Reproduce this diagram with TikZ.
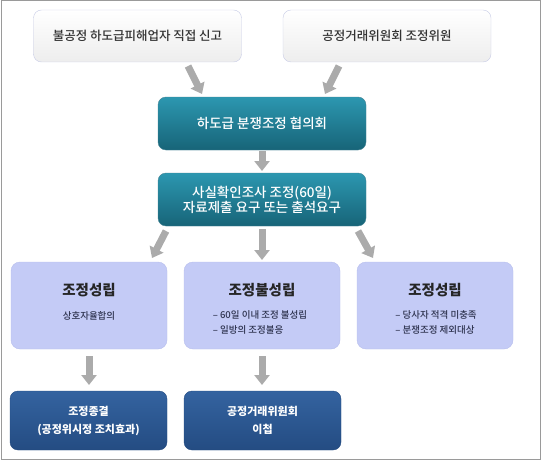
\documentclass[tikz,border=0pt]{standalone}
\usepackage{fontspec}
\setmainfont{Noto Sans CJK KR}
\newfontfamily\krmed{Noto Sans CJK KR Medium}
\usetikzlibrary{arrows.meta}
\definecolor{frame}{HTML}{9A9A9A}
\definecolor{tealtop}{HTML}{2C97B0}
\definecolor{tealbot}{HTML}{176478}
\definecolor{navytop}{HTML}{3463A0}
\definecolor{navybot}{HTML}{244C82}
\definecolor{lavfill}{HTML}{C4CBF6}
\definecolor{lavedge}{HTML}{B7BEEC}
\definecolor{topedge}{HTML}{C8CCE6}
\definecolor{arrowgray}{HTML}{ABABAB}
\definecolor{subtext}{HTML}{2F3450}
\tikzset{
  topbox/.style={draw=topedge, top color=white, bottom color=black!7, rounded corners=8pt,
    minimum width=208pt, minimum height=52pt, text=black!80, font=\krmed\fontsize{12.5}{14}\selectfont, inner sep=0pt},
  tealbox/.style={draw=tealbot!80, top color=tealtop, bottom color=tealbot, rounded corners=8pt,
    minimum width=208pt, minimum height=53pt, text=white, align=center,
    font=\krmed\fontsize{13.5}{16}\selectfont, inner sep=0pt},
  lavbox/.style={draw=lavedge, fill=lavfill, rounded corners=9pt,
    minimum width=156pt, minimum height=87pt, inner sep=0pt},
  navybox/.style={draw=navybot, top color=navytop, bottom color=navybot, rounded corners=8pt,
    minimum width=157pt, minimum height=59pt, text=white, align=center,
    font=\bfseries\fontsize{11}{18}\selectfont, inner sep=0pt},
  lavtitle/.style={font=\bfseries\fontsize{14.5}{16}\selectfont, text=black!85, inner sep=0pt},
  lavsub/.style={font=\krmed\fontsize{9.5}{15}\selectfont, text=subtext, align=left, inner sep=0pt},
  garrow/.style={line width=7pt, draw=arrowgray, -{Triangle[width=15pt,length=10pt]}},
}
\begin{document}
\begin{tikzpicture}[x=1pt,y=-1pt]
\useasboundingbox (0,0) rectangle (541,460);
\draw[frame, line width=1pt] (1,1) rectangle (540,459);

\node[topbox] (tl) at (137.5,36) {불공정 하도급피해업자 직접 신고};
\node[topbox] (tr) at (387,36) {공정거래위원회 조정위원};
\node[tealbox] (t1) at (262,123.5) {하도급 분쟁조정 협의회};
\node[tealbox] (t2) at (262,199.5) {사실확인조사 조정(60일)\\[-1pt]자료제출 요구 또는 출석요구};

\node[lavbox] (l1) at (89,305.5) {};
\node[lavbox] (l2) at (262,305.5) {};
\node[lavbox] (l3) at (435,305.5) {};
\node[lavtitle] (l1t) at (89,290) {조정성립};
\node[lavtitle] (l2t) at (262,290) {조정불성립};
\node[lavtitle] (l3t) at (435,290) {조정성립};
\node[lavsub] (l1s) at (89,316) {상호자율합의};
\node[lavsub] (l2s) at (260,322.5) {– 60일 이내 조정 불성립\\– 일방의 조정불응};
\node[lavsub] (l3s) at (436,322.5) {– 당사자 적격 미충족\\– 분쟁조정 제외대상};

\node[navybox] (n1) at (88.5,420.5) {조정종결\\(공정위시정 조치효과)};
\node[navybox] (n2) at (262.5,420.5) {공정거래위원회\\이첩};

\coordinate (a1s) at (188,66);  \coordinate (a1e) at (202,94);
\coordinate (a2s) at (339,66);  \coordinate (a2e) at (325,94);
\coordinate (a3s) at (262,151); \coordinate (a3e) at (262,171);
\coordinate (a4s) at (166,231); \coordinate (a4e) at (152,258);
\coordinate (a5s) at (262,229); \coordinate (a5e) at (262,260);
\coordinate (a6s) at (358,231); \coordinate (a6e) at (373,258);
\coordinate (a7s) at (89,356);  \coordinate (a7e) at (89,385);
\coordinate (a8s) at (262,356); \coordinate (a8e) at (262,385);
\foreach \i in {1,...,8} { \draw[garrow] (a\i s) -- (a\i e); }
\end{tikzpicture}
\end{document}
